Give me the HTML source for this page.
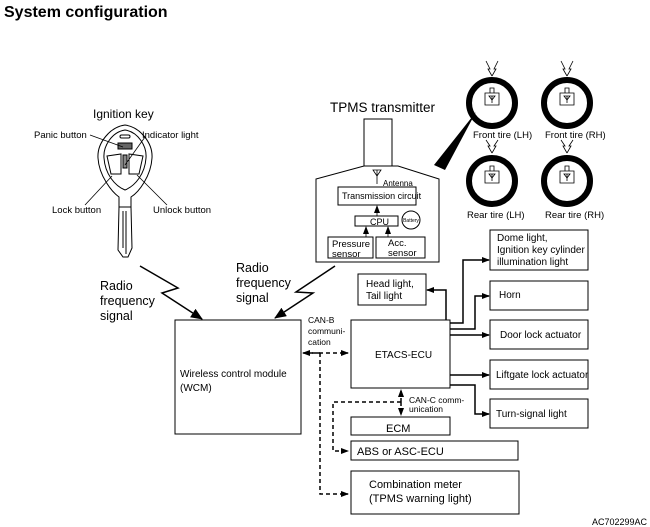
<!DOCTYPE html>
<html><head><style>
body{margin:0;background:#fff}
svg{display:block;font-family:"Liberation Sans",sans-serif}
</style></head><body>
<svg width="650" height="527" viewBox="0 0 650 527" xmlns="http://www.w3.org/2000/svg">
<defs>
<marker id="a" markerWidth="8" markerHeight="6" refX="7" refY="3" orient="auto" markerUnits="userSpaceOnUse"><path d="M0,0L8,3L0,6z" fill="#000"/></marker>
<marker id="b" markerWidth="12" markerHeight="10" refX="11" refY="5" orient="auto" markerUnits="userSpaceOnUse"><path d="M0,0L12,5L0,10z" fill="#000"/></marker>
</defs>
<text x="4" y="17" font-size="16" font-weight="bold">System configuration</text>

<!-- ignition key -->
<text x="93" y="118" font-size="12">Ignition key</text>
<g fill="none" stroke="#000" stroke-width="1">
<path d="M125,125 C110,127 97,143 98,158 C99,176 112,192 119,197 L119,207 L131,207 L131,197 C139,192 151,176 152,158 C153,143 140,127 125,125 Z"/>
<path d="M125,130 C112,132 103,146 104,158 C105,174 115,186 125,190 C135,186 145,174 146,158 C147,146 138,132 125,130 Z"/>
<path d="M119,207 L118,250 L123,257 L128,257 L132,248 L131,207"/>
<path d="M123,211 L123,248 M126,211 L126,254"/>
<rect x="120" y="135" width="10" height="3" rx="1.5"/>
<rect x="118" y="143" width="14" height="6" fill="#666"/>
<path d="M107,156 L121,154 L121,174 L111,174 Z"/>
<path d="M143,156 L129,154 L129,174 L139,174 Z"/>
<rect x="123" y="155" width="4" height="13" fill="#888"/>
</g>
<g stroke="#000" stroke-width="0.8" fill="none">
<line x1="90" y1="135" x2="123" y2="147"/><line x1="145" y1="137" x2="125" y2="165"/>
<line x1="85" y1="205" x2="112" y2="176"/><line x1="167" y1="205" x2="137" y2="175"/>
</g>
<g font-size="9.5"><text x="34" y="138">Panic button</text><text x="142" y="138">Indicator light</text>
<text x="52" y="213">Lock button</text><text x="153" y="213">Unlock button</text></g>

<!-- left RF -->
<path d="M140,266 L178,288 L162,293 L202,319" fill="none" stroke="#000" stroke-width="1.5" marker-end="url(#b)"/>
<g font-size="12.5"><text x="100" y="290">Radio</text><text x="100" y="305">frequency</text><text x="100" y="320">signal</text></g>

<!-- TPMS transmitter -->
<text x="330" y="112" font-size="13.5">TPMS transmitter</text>
<rect x="364" y="119" width="28" height="47" fill="none" stroke="#000"/>
<path d="M316,262 L316,179 L364,166 L398,166 L439,179 L439,262 Z" fill="none" stroke="#000"/>
<path d="M373,170 L381,170 L377,176 Z M377,170 L377,184" fill="none" stroke="#000" stroke-width="0.8"/>
<text x="383" y="186" font-size="8">Antenna</text>
<rect x="338" y="187" width="78" height="18" fill="none" stroke="#000"/>
<text x="342" y="199" font-size="9">Transmission circuit</text>
<rect x="355" y="216" width="43" height="10" fill="none" stroke="#000"/>
<text x="370" y="225" font-size="9">CPU</text>
<circle cx="411" cy="220" r="9" fill="none" stroke="#000"/>
<text x="411" y="222" font-size="5" text-anchor="middle">Battery</text>
<rect x="328" y="237" width="45" height="21" fill="none" stroke="#000"/>
<rect x="376" y="237" width="49" height="21" fill="none" stroke="#000"/>
<g font-size="9.5"><text x="332" y="247">Pressure</text><text x="332" y="257">sensor</text><text x="388" y="246">Acc.</text><text x="388" y="256">sensor</text></g>
<g stroke="#000" fill="none" marker-end="url(#a)" stroke-width="0.8"><line x1="377" y1="216" x2="377" y2="206"/><line x1="366" y1="237" x2="366" y2="227"/><line x1="388" y1="237" x2="388" y2="227"/></g>

<!-- right RF -->
<path d="M335,266 L296,292 L313,293 L275,318" fill="none" stroke="#000" stroke-width="1.5" marker-end="url(#b)"/>
<g font-size="12.5"><text x="236" y="272">Radio</text><text x="236" y="287">frequency</text><text x="236" y="302">signal</text></g>

<!-- tires -->
<g fill="none" stroke="#000" stroke-width="6">
<circle cx="492" cy="103" r="23"/><circle cx="567" cy="103" r="23"/>
<circle cx="492" cy="181" r="23"/><circle cx="567" cy="181" r="23"/>
</g>
<g fill="none" stroke="#000" stroke-width="0.8">
<path d="M485,93 h14 v12 h-14z M490,93 v-5 h4 v5 M489,96 h6 l-3,4z M492,96 v7"/>
<path d="M560,93 h14 v12 h-14z M565,93 v-5 h4 v5 M564,96 h6 l-3,4z M567,96 v7"/>
<path d="M485,171 h14 v12 h-14z M490,171 v-5 h4 v5 M489,174 h6 l-3,4z M492,174 v7"/>
<path d="M560,171 h14 v12 h-14z M565,171 v-5 h4 v5 M564,174 h6 l-3,4z M567,174 v7"/>
<path d="M486,61 l4,8 l-2,0 l4,7 M498,61 l-4,8 l2,0 l-4,7"/>
<path d="M561,61 l4,8 l-2,0 l4,7 M573,61 l-4,8 l2,0 l-4,7"/>
<path d="M486,140 l4,6 l-2,0 l4,7 M498,140 l-4,6 l2,0 l-4,7"/>
<path d="M561,140 l4,6 l-2,0 l4,7 M573,140 l-4,6 l2,0 l-4,7"/>
</g>
<path d="M476,112 L445,170 L434,165 Z" fill="#000"/>
<g font-size="9.5"><text x="473" y="138">Front tire (LH)</text><text x="545" y="138">Front tire (RH)</text>
<text x="467" y="218">Rear tire (LH)</text><text x="545" y="218">Rear tire (RH)</text></g>

<!-- boxes -->
<g fill="none" stroke="#000">
<rect x="175" y="320" width="126" height="114"/>
<rect x="351" y="320" width="99" height="68"/>
<rect x="358" y="274" width="68" height="31"/>
<rect x="490" y="230" width="98" height="40"/>
<rect x="490" y="281" width="98" height="29"/>
<rect x="490" y="320" width="98" height="29"/>
<rect x="490" y="360" width="98" height="29"/>
<rect x="490" y="399" width="98" height="29"/>
<rect x="351" y="417" width="99" height="18"/>
<rect x="351" y="441" width="167" height="19"/>
<rect x="351" y="471" width="168" height="43"/>
</g>
<g font-size="10">
<text x="180" y="377">Wireless control module</text><text x="180" y="391">(WCM)</text>
<text x="375" y="358">ETACS-ECU</text>
<text x="366" y="287">Head light,</text><text x="366" y="299">Tail light</text>
<text x="497" y="241">Dome light,</text><text x="497" y="253">Ignition key cylinder</text><text x="497" y="265">illumination light</text>
<text x="499" y="298">Horn</text>
<text x="500" y="338">Door lock actuator</text>
<text x="496" y="378">Liftgate lock actuator</text>
<text x="496" y="417">Turn-signal light</text>
<text x="386" y="432" font-size="11">ECM</text>
<text x="357" y="455" font-size="11">ABS or ASC-ECU</text>
<text x="369" y="488" font-size="11">Combination meter</text><text x="369" y="502" font-size="11">(TPMS warning light)</text>
</g>
<g font-size="8.5"><text x="308" y="323">CAN-B</text><text x="308" y="334">communi-</text><text x="308" y="345">cation</text>
<text x="409" y="403">CAN-C comm-</text><text x="409" y="412">unication</text></g>

<!-- solid connectors -->
<g fill="none" stroke="#000" stroke-width="1.5" marker-end="url(#a)">
<path d="M450,323 H463 V260 H489"/>
<path d="M450,329 H475 V296 H489"/>
<path d="M450,335 H489"/>
<path d="M450,375 H489"/>
<path d="M450,385 H475 V414 H489"/>
<path d="M446,320 V290 H427"/>
</g>
<!-- dashed -->
<g fill="none" stroke="#000" stroke-width="1.5" stroke-dasharray="4,3">
<path d="M305,353 H348" marker-end="url(#a)"/>
<path d="M320,353 H303" marker-end="url(#a)"/>
<path d="M320,353 V494 H348" marker-end="url(#a)"/>
<path d="M401,402 V390" marker-end="url(#a)"/>
<path d="M401,402 V415" marker-end="url(#a)"/>
<path d="M401,402 H333 V451 H348" marker-end="url(#a)"/>
</g>
<text x="592" y="525" font-size="9">AC702299AC</text>
</svg>
</body></html>
